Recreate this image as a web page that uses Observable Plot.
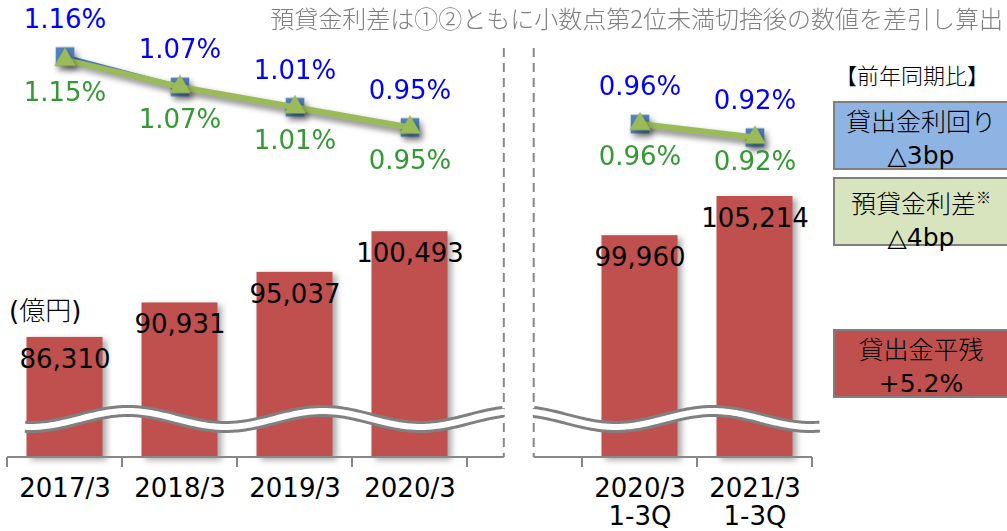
<!DOCTYPE html>
<html><head><meta charset="utf-8">
<script src="https://cdn.jsdelivr.net/npm/d3@7"></script>
<script src="https://cdn.jsdelivr.net/npm/@observablehq/plot@0.6"></script>
<style>
body{margin:0;background:#fff;}
#wrap{position:relative;width:1007px;height:531px;overflow:hidden;font-family:"DejaVu Sans","Noto Sans CJK JP",sans-serif;background:#fff;}
#wrap svg{position:absolute;left:0;top:0;}
.abs{position:absolute;white-space:nowrap;}
.jp{font-family:"Noto Sans CJK JP","DejaVu Sans",sans-serif;font-weight:300;}
.box{position:absolute;left:833px;width:176px;border:2px solid #7F7F7F;box-sizing:border-box;text-align:center;font-size:25px;line-height:33px;color:#000;padding-top:1px;}
</style></head>
<body><div id="wrap"></div>
<script>
// ---- data ----
const categories = ["2017/3", "2018/3", "2019/3", "2020/3", "", "2020/3\n1-3Q", "2021/3\n1-3Q"];
const groups     = [1, 1, 1, 1, 0, 2, 2];
const balances   = [86310, 90931, 95037, 100493, null, 99960, 105214];   // 貸出金平残 (億円)
const loanYield  = [1.16, 1.07, 1.01, 0.95, null, 0.96, 0.92];           // 貸出金利回り (%)
const loanSpread = [1.15, 1.07, 1.01, 0.95, null, 0.96, 0.92];           // 預貸金利差 (%)
const unitLabel = "億円";
const noteText = "預貸金利差は①②ともに小数点第2位未満切捨後の数値を差引し算出";
const legendTitle = "【前年同期比】";
const legendItems = [
  {name: "貸出金利回り", change: "△3bp"},
  {name: "預貸金利差", sup: "※", change: "△4bp"},
  {name: "貸出金平残", change: "+5.2%"}
];

const rows = categories.map((c, i) => ({cat: c, group: groups[i], value: balances[i], yld: loanYield[i], spr: loanSpread[i]}));
const barRows = rows.filter(d => d.value != null);
const lineRows = rows.filter(d => d.yld != null);

// ---- scales ----
const axisBase = 70200;   // broken-axis baseline value
const breakValue = 75300; // where the wave break sits
const X = {type: "band", domain: categories, range: [7, 812], padding: 0, axis: null};
const font = '"DejaVu Sans","Noto Sans CJK JP",sans-serif';

const barPlot = Plot.plot({
  width: 1007, height: 531, margin: 0,
  style: {fontFamily: font, background: "transparent", overflow: "visible"},
  x: X,
  y: {domain: [axisBase, 105214], range: [457, 196], axis: null},
  marks: [
    Plot.barY(barRows, {x: "cat", y1: axisBase, y2: "value", fill: "#C0504D", insetLeft: 19.5, insetRight: 19.5}),
    Plot.text(barRows, {x: "cat", y: "value", text: d => d3.format(",")(d.value), dy: 22, fontSize: 26, fill: "#000"}),
    Plot.text(barRows, {x: "cat", y: axisBase, text: "cat", lineAnchor: "top", dy: 20, fontSize: 26, lineHeight: 1.07, fill: "#000"})
  ]
});

const linePlot = Plot.plot({
  width: 1007, height: 531, margin: 0,
  style: {fontFamily: font, background: "transparent", overflow: "visible"},
  x: X,
  y: {domain: [0.92, 1.16], range: [137.1, 56], axis: null},
  marks: [
    Plot.line(lineRows, {x: "cat", y: "yld", z: "group", stroke: "#4F81BD", strokeWidth: 4}),
    Plot.dot(lineRows, {x: "cat", y: "yld", symbol: "square", r: 10.5, fill: "#4F81BD", stroke: "none"}),
    Plot.line(lineRows, {x: "cat", y: "spr", z: "group", stroke: "#9BBB59", strokeWidth: 6}),
    Plot.dot(lineRows, {x: "cat", y: "spr", symbol: "triangle", r: 8, fill: "#9BBB59", stroke: "none"}),
    Plot.text(lineRows, {x: "cat", y: "yld", text: d => d.yld.toFixed(2) + "%", dy: -37, fontSize: 26, fill: "#0000FF"}),
    Plot.text(lineRows.slice(0, -1), {x: "cat", y: "spr", text: d => d.spr.toFixed(2) + "%", dy: 33, fontSize: 26, fill: "#339933"}),
    Plot.text(lineRows.slice(-1), {x: "cat", y: "spr", text: d => d.spr.toFixed(2) + "%", dy: 24, fontSize: 26, fill: "#339933"})
  ]
});

const wrap = document.getElementById("wrap");
wrap.appendChild(barPlot);
wrap.appendChild(linePlot);

// shadows
d3.select(barPlot).select('g[aria-label="bar"]').style("filter", "drop-shadow(4px 3px 3px rgba(0,0,0,0.35))");
d3.select(linePlot).selectAll('g[aria-label="line"], g[aria-label="dot"]').style("filter", "drop-shadow(3px 4px 3px rgba(0,0,0,0.35))");

// ---- decorations: axis line, ticks, separators, wave break ----
const xs = barPlot.scale("x"), ys = barPlot.scale("y");
const bw = xs.bandwidth;
const start = c => xs.apply(c);
const yBase = ys.apply(axisBase);
const gapStart = start("");
const sepL = gapStart + bw * 0.32, sepR = gapStart + bw * 0.58;
const deco = d3.select(barPlot).append("g").attr("stroke", "#888").attr("fill", "none");
deco.append("line").attr("x1", start(categories[0])).attr("x2", sepL).attr("y1", yBase).attr("y2", yBase).attr("stroke-width", 2);
deco.append("line").attr("x1", sepR).attr("x2", start(categories[6]) + bw).attr("y1", yBase).attr("y2", yBase).attr("stroke-width", 2);
const tickXs = [0, 1, 2, 3, 4].map(i => start(categories[i])).concat([start(categories[5]), start(categories[6]), start(categories[6]) + bw]);
tickXs.forEach(x => deco.append("line").attr("x1", x).attr("x2", x).attr("y1", yBase).attr("y2", yBase + 10).attr("stroke-width", 2));
[sepL, sepR].forEach(x => deco.append("line").attr("x1", x).attr("x2", x).attr("y1", 48).attr("y2", yBase).attr("stroke-width", 2).attr("stroke-dasharray", "9,6"));

const yWave = ys.apply(breakValue);
function wave(x0, x1) {
  const pts = d3.range(x0, x1 + 0.1, 2).map(x => [x, yWave - 8 * Math.cos(2 * Math.PI * (x - 128) / 195)]);
  return d3.line()(pts);
}
[[start(categories[0]) + 18, sepL], [sepR, start(categories[6]) + bw + 9]].forEach(([a, b]) => {
  const g = d3.select(barPlot).append("g").attr("fill", "none");
  g.append("path").attr("d", wave(a, b)).attr("stroke", "#808080").attr("stroke-width", 12);
  g.append("path").attr("d", wave(a - 2, b + 2)).attr("stroke", "#fff").attr("stroke-width", 6);
});

// ---- text annotations & legend ----
function addDiv(cls, css, html) {
  const d = document.createElement("div");
  d.className = cls; d.style.cssText = css; d.innerHTML = html;
  wrap.appendChild(d); return d;
}
addDiv("abs jp", "right:4px;top:0px;font-size:24px;color:#7F7F7F;", noteText);
addDiv("abs", "left:9px;top:290px;font-size:26px;color:#000;", `(<span class="jp">${unitLabel}</span>)`);
addDiv("abs jp", "left:835px;top:58px;font-size:22px;color:#000;", legendTitle);
const boxStyles = [
  {top: 101, bg: "#8DB4E2"},
  {top: 177, bg: "#D7E4BD"},
  {top: 329, bg: "#C0504D"}
];
legendItems.forEach((it, i) => {
  const s = boxStyles[i];
  const sup = it.sup ? `<span class="jp" style="font-size:15px;vertical-align:10px;">${it.sup}</span>` : "";
  addDiv("box", `top:${s.top}px;height:69px;background:${s.bg};`, `<span class="jp">${it.name}</span>${sup}<br>${it.change}`);
});
</script>
</body></html>
